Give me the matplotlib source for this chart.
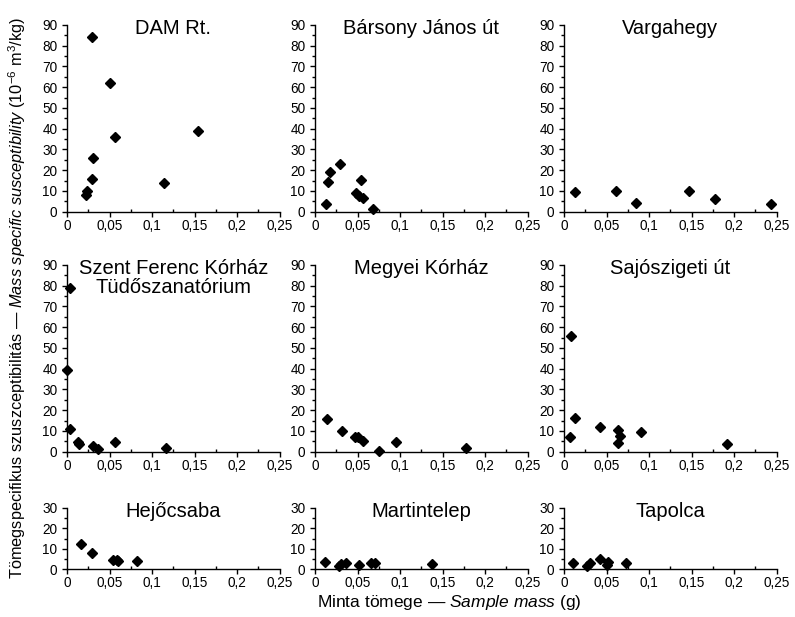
import matplotlib
matplotlib.use("Agg")
import matplotlib.pyplot as plt
from matplotlib.ticker import MultipleLocator
from matplotlib.transforms import offset_copy

plt.rcParams['font.family'] = ['Liberation Sans', 'DejaVu Sans']
plt.rcParams['mathtext.fontset'] = 'custom'
plt.rcParams['mathtext.rm'] = 'Liberation Sans'
plt.rcParams['mathtext.it'] = 'Liberation Sans:italic'

# ---------------- data ----------------
titles = ["DAM Rt.", "Bársony János út", "Vargahegy",
          "Szent Ferenc Kórház\nTüdőszanatórium", "Megyei Kórház", "Sajószigeti út",
          "Hejőcsaba", "Martintelep", "Tapolca"]

dam_x = [0.029, 0.050, 0.154, 0.056, 0.030, 0.029, 0.114, 0.024, 0.022]
dam_y = [84, 62, 39, 36, 26, 16, 14, 10, 8]

barsony_x = [0.013, 0.015, 0.018, 0.029, 0.054, 0.048, 0.052, 0.057, 0.068]
barsony_y = [3.6, 14.5, 19.3, 23, 15.3, 8.9, 7.5, 6.5, 1.2]

varga_x = [0.013, 0.061, 0.085, 0.147, 0.177, 0.243]
varga_y = [9.3, 9.8, 4.0, 10.1, 6.3, 3.6]

szent_x = [0.0035, 0.0004, 0.003, 0.013, 0.0145, 0.031, 0.037, 0.057, 0.116]
szent_y = [79, 39.2, 10.9, 4.8, 3.7, 2.7, 1.1, 4.8, 1.6]

megyei_x = [0.0145, 0.032, 0.047, 0.051, 0.056, 0.075, 0.095, 0.178]
megyei_y = [15.6, 10, 7.2, 7.2, 5.3, 0.5, 4.8, 1.6]

sajo_x = [0.008, 0.007, 0.013, 0.042, 0.063, 0.066, 0.063, 0.090, 0.191]
sajo_y = [55.9, 7.2, 16.4, 12.1, 10.5, 7.7, 4.0, 9.6, 3.6]

hejo_x = [0.016, 0.029, 0.054, 0.059, 0.060, 0.082]
hejo_y = [12.2, 7.9, 4.5, 4.5, 4.0, 4.0]

martin_x = [0.012, 0.028, 0.031, 0.037, 0.052, 0.066, 0.070, 0.137]
martin_y = [3.7, 1.8, 2.4, 2.9, 2.1, 3.2, 3.2, 2.6]

tapolca_x = [0.010, 0.027, 0.031, 0.042, 0.052, 0.051, 0.073]
tapolca_y = [2.9, 1.6, 2.9, 5.0, 3.7, 2.1, 2.9]

xticks = [0, 0.05, 0.1, 0.15, 0.2, 0.25]
xticklabels = ["0", "0,05", "0,1", "0,15", "0,2", "0,25"]
yticks_big = [0, 10, 20, 30, 40, 50, 60, 70, 80, 90]
yticks_small = [0, 10, 20, 30]

series = [(dam_x, dam_y), (barsony_x, barsony_y), (varga_x, varga_y),
          (szent_x, szent_y), (megyei_x, megyei_y), (sajo_x, sajo_y),
          (hejo_x, hejo_y), (martin_x, martin_y), (tapolca_x, tapolca_y)]

# ---------------- layout ----------------
W, H = 795, 617
fig = plt.figure(figsize=(W / 100, H / 100), dpi=100)

cols = [(67, 279.7), (315, 527.7), (564, 776.7)]
rows = [(25, 211.7), (265, 451.7), (507.7, 569.3)]

for i, (xs, ys) in enumerate(series):
    r, c = divmod(i, 3)
    l, rr = cols[c]
    t, b = rows[r]
    ax = fig.add_axes([l / W, 1 - b / H, (rr - l) / W, (b - t) / H])
    ax.plot(xs, ys, 'D', color='black', ms=5.6, clip_on=False, zorder=3)
    ax.set_xlim(0, 0.25)
    yt = yticks_small if r == 2 else yticks_big
    ax.set_ylim(yt[0], yt[-1])
    ax.set_yticks(yt)
    ax.set_yticklabels([str(v) for v in yt])
    ax.set_xticks(xticks)
    ax.set_xticklabels(xticklabels)
    ax.xaxis.set_minor_locator(MultipleLocator(0.025))
    ax.yaxis.set_minor_locator(MultipleLocator(5))
    for s in ['top', 'right']:
        ax.spines[s].set_visible(False)
    for s in ['left', 'bottom']:
        ax.spines[s].set_linewidth(1.0)
    ax.tick_params(axis='x', which='major', direction='out', length=3.5, width=1.0,
                   pad=1.5, labelsize=9.8)
    ax.tick_params(axis='x', which='minor', direction='in', length=2.5, width=1.0)
    ax.tick_params(axis='y', which='major', direction='out', length=3.5, width=1.0,
                   pad=3.5, labelsize=9.8)
    ax.tick_params(axis='y', which='minor', direction='out', length=2.2, width=1.0)
    tr = offset_copy(ax.transAxes, fig=fig, x=0, y=6, units='dots')
    ax.text(0.5, 1.0, titles[i], transform=tr, ha='center', va='top',
            fontsize=14.5, linespacing=1.0)

fig.text(449 / W, 1 - 603 / H, r"Minta tömege — $\mathit{Sample\ mass}$ (g)",
         ha='center', va='center', fontsize=12.5)
fig.text(17 / W, 1 - 298 / H,
         r"Tömegspecifikus szuszceptibilitás — $\mathit{Mass\ specific\ susceptibility}$ (10$^{-6}$ m$^{3}$/kg)",
         ha='center', va='center', rotation=90, fontsize=11.8)

fig.savefig("out.png", dpi=100)
